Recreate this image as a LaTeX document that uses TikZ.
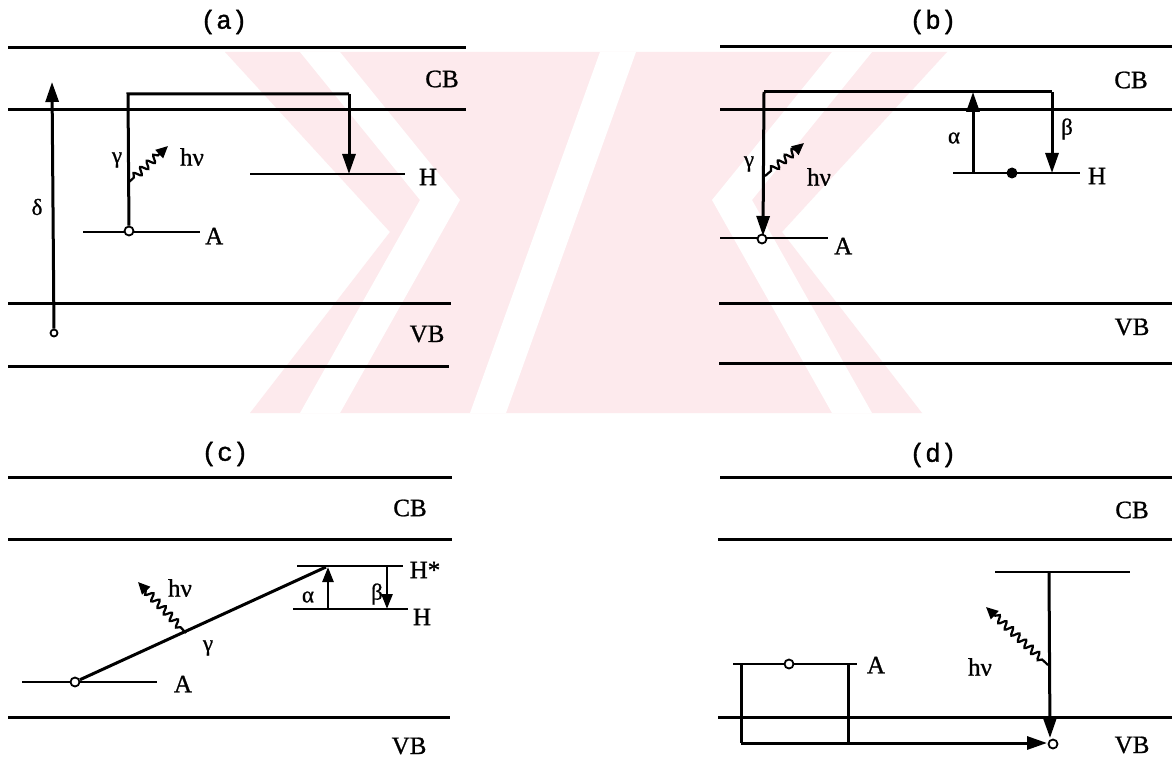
\documentclass[tikz,border=0pt]{standalone}
\usepackage{fontspec}
\setmainfont{Liberation Serif}[FakeBold=0.7]
\newfontfamily\labf{Liberation Serif}[FakeBold=0.9]
\newfontfamily\monof{Liberation Mono}[FakeBold=1.2]
\usetikzlibrary{arrows.meta,decorations.pathmorphing}
\definecolor{wmpink}{RGB}{253,234,237}
\begin{document}
\begin{tikzpicture}[x=1pt,y=-1pt,
 band/.style={line width=3pt},
 lvl/.style={line width=2.8pt},
 tr/.style={line width=3pt},
 arr/.style={line width=3pt,-{Triangle[length=20pt,width=13pt]}},
 arrs/.style={line width=2.6pt,-{Triangle[length=15pt,width=11pt]}},
 photon/.style={line width=2.2pt,decorate,decoration={snake,amplitude=3.6pt,segment length=9pt,pre length=8pt,post length=10pt},-{Triangle[length=12pt,width=11pt]}},
 lbl/.style={font=\labf\fontsize{25}{28}\selectfont,inner sep=0pt},
 glbl/.style={font=\labf\fontsize{23}{26}\selectfont,inner sep=0pt},
 ttl/.style={font=\monof\fontsize{26}{30}\selectfont,inner sep=0pt},
 odot/.style={circle,draw,fill=white,line width=1.8pt,inner sep=0pt,minimum size=9pt},
 fdot/.style={circle,fill=black,inner sep=0pt,minimum size=11pt},
 wm/.style={fill=wmpink,draw=none},
 wmgap/.style={fill=white,draw=none}]
\useasboundingbox (0,0) rectangle (1172,778);
\fill[white] (0,0) rectangle (1172,778);
% watermark
\fill[wm] (225,52) -- (947,52) -- (782,232) -- (922,413) -- (250,413) -- (390,232) -- cycle;
\fill[wmgap] (300,52) -- (340,52) -- (460,200) -- (340,413) -- (300,413) -- (420,200) -- cycle;
\fill[wmgap] (872,52) -- (832,52) -- (712,200) -- (832,413) -- (872,413) -- (752,200) -- cycle;
\fill[wmgap] (600,52) -- (636,52) -- (506,413) -- (470,413) -- cycle;

% ================= (a)
\node[ttl] (ta) at (224,22) {(a)};
\draw[band] (8,48) coordinate (a1) -- (466,48) coordinate (a2);
\draw[band] (8,110) coordinate (a3) -- (466,110) coordinate (a4);
\draw[band] (8,303) coordinate (a5) -- (451,303) coordinate (a6);
\draw[band] (8,366) coordinate (a7) -- (449,366) coordinate (a8);
\node[lbl] (acb) at (442,79) {CB};
\node[lbl] (avb) at (427,334) {VB};
\draw[lvl] (83,232) coordinate (aAl) -- (200,232) coordinate (aAr);
\node[lbl,anchor=west] (aA) at (205,236) {A};
\draw[lvl] (250,174) coordinate (aHl) -- (405,174) coordinate (aHr);
\node[lbl] (aH) at (428,177) {H};
\node[odot,minimum size=7pt] (adel) at (54,333) {};
\coordinate (adtop) at (52,82);
\draw[arr] (adel) -- (adtop);
\node[glbl] (adl) at (37,207) {δ};
\node[odot] (aAd) at (129,231) {};
\coordinate (ac1) at (128,94);
\coordinate (ac2) at (349,94);
\coordinate (aHt) at (349,174);
\draw[tr] (aAd) -- (ac1) -- (ac2);
\draw[arr] (ac2) -- (aHt);
\node[glbl] (agl) at (117,160) {γ};
\coordinate (ap1) at (128,183);
\coordinate (ap2) at (168,146);
\draw[photon] (ap1) -- (ap2);
\node[lbl] (ahv) at (192,157) {hν};

% ================= (b)
\node[ttl] (tb) at (933,22) {(b)};
\draw[band] (720,47) coordinate (b1) -- (1172,47) coordinate (b2);
\draw[band] (720,110) coordinate (b3) -- (1172,110) coordinate (b4);
\draw[band] (719,303) coordinate (b5) -- (1172,303) coordinate (b6);
\draw[band] (719,363) coordinate (b7) -- (1172,363) coordinate (b8);
\node[lbl] (bcb) at (1131,80) {CB};
\node[lbl] (bvb) at (1132,327) {VB};
\draw[lvl] (720,238) coordinate (bAl) -- (828,238) coordinate (bAr);
\node[lbl,anchor=west] (bA) at (834,246) {A};
\draw[lvl] (953,173) coordinate (bHl) -- (1080,173) coordinate (bHr);
\node[lbl] (bH) at (1097,176) {H};
\node[fdot] (bHd) at (1012,173) {};
\node[odot] (bAd) at (762,239) {};
\coordinate (bc1) at (764,92);
\coordinate (bc2) at (1052,92);
\coordinate (bHt) at (1052,173);
\coordinate (bAt) at (763,236);
\draw[tr] (bc1) -- (bc2);
\draw[arr] (bc1) -- (bAt);
\draw[arr] (bc2) -- (bHt);
\coordinate (baB) at (973,173);
\coordinate (baT) at (973,92);
\draw[arr] (baB) -- (baT);
\node[glbl] (bal) at (954,138) {α};
\node[glbl] (bbl) at (1067,129) {β};
\node[glbl] (bgl) at (749,164) {γ};
\coordinate (bp1) at (765,176);
\coordinate (bp2) at (804,143);
\draw[photon] (bp1) -- (bp2);
\node[lbl] (bhv) at (819,177) {hν};

% ================= (c)
\node[ttl] (tc) at (225,454) {(c)};
\draw[band] (8,477) coordinate (c1) -- (452,477) coordinate (c2);
\draw[band] (8,539) coordinate (c3) -- (452,539) coordinate (c4);
\draw[band] (8,717) coordinate (c5) -- (450,717) coordinate (c6);
\node[lbl] (ccb) at (410,508) {CB};
\node[lbl] (cvb) at (409,746) {VB};
\draw[lvl] (297,566) coordinate (cHsl) -- (403,566) coordinate (cHsr);
\node[lbl] (cHs) at (425,570) {H*};
\draw[lvl] (293,609) coordinate (cHl) -- (408,609) coordinate (cHr);
\node[lbl] (cH) at (422,617) {H};
\draw[lvl] (22,682) coordinate (cAl) -- (157,682) coordinate (cAr);
\node[lbl] (cA) at (183,684) {A};
\node[odot] (cAd) at (75,682) {};
\coordinate (cgT) at (326,567);
\draw[tr] (cAd) -- (cgT);
\coordinate (caB) at (328,609);
\coordinate (caT) at (328,567);
\draw[arrs] (caB) -- (caT);
\coordinate (cbT) at (387,566);
\coordinate (cbB) at (387,609);
\draw[arrs] (cbT) -- (cbB);
\node[glbl] (cal) at (308,597) {α};
\node[glbl] (cbl) at (377,594) {β};
\node[glbl] (cgl) at (208,648) {γ};
\coordinate (cp1) at (186,633);
\coordinate (cp2) at (138,582);
\draw[photon] (cp1) -- (cp2);
\node[lbl] (chv) at (180,588) {hν};

% ================= (d)
\node[ttl] (td) at (933,455) {(d)};
\draw[band] (720,477) coordinate (d1) -- (1172,477) coordinate (d2);
\draw[band] (718,539) coordinate (d3) -- (1172,539) coordinate (d4);
\draw[band] (718,717) coordinate (d5) -- (1172,717) coordinate (d6);
\node[lbl] (dcb) at (1132,510) {CB};
\node[lbl] (dvb) at (1132,745) {VB};
\draw[lvl] (995,572) coordinate (dUl) -- (1130,572) coordinate (dUr);
\draw[lvl] (733,664) coordinate (dAl) -- (857,664) coordinate (dAr);
\node[lbl] (dA) at (876,665) {A};
\node[odot] (dAd) at (789,664) {};
\node[odot] (dVd) at (1053,744) {};
\coordinate (dvT) at (1049,572);
\coordinate (dvB) at (1050,738);
\draw[arr] (dvT) -- (dvB);
\coordinate (dr1) at (741,664);
\coordinate (dr2) at (741,743);
\coordinate (dr3) at (848,664);
\coordinate (dr4) at (848,743);
\coordinate (drE) at (1047,743);
\draw[tr] (dr1) -- (dr2);
\draw[tr] (dr3) -- (dr4);
\draw[arr] (dr2) -- (drE);
\coordinate (dp1) at (1048,665);
\coordinate (dp2) at (986,607);
\draw[photon] (dp1) -- (dp2);
\node[lbl] (dhv) at (980,667) {hν};
\end{tikzpicture}
\end{document}
